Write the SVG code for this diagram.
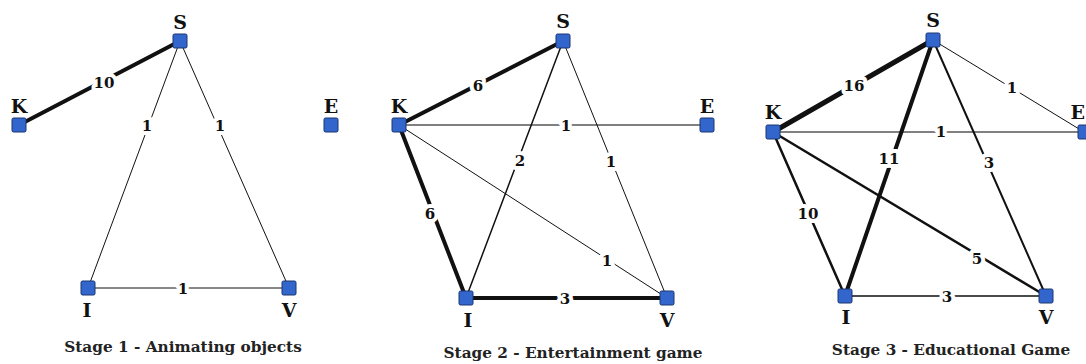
<svg xmlns="http://www.w3.org/2000/svg" width="1086" height="364" viewBox="0 0 1086 364">
<style>
.n{fill:#3366cc;stroke:#1a3570;stroke-width:1}
.nl{font-family:"DejaVu Serif","Liberation Serif",serif;font-weight:bold;font-size:19px;fill:#111;text-anchor:middle}
.el{font-family:"DejaVu Serif","Liberation Serif",serif;font-weight:bold;font-size:15px;fill:#111;text-anchor:middle;stroke:#fff;stroke-width:8px;paint-order:stroke;stroke-linejoin:round}
.cap{font-family:"DejaVu Serif","Liberation Serif",serif;font-weight:bold;font-size:15.3px;fill:#222;text-anchor:middle}
.e{stroke:#111;fill:none;stroke-linecap:round}
.g{stroke:#808080;fill:none}
</style>
<rect width="1086" height="364" fill="#fff"/>
<g id="connectors">
<line class="e" x1="19" y1="125" x2="180" y2="41" stroke-width="4"/>
<line class="e" x1="180" y1="41" x2="88" y2="288" stroke-width="1"/>
<line class="e" x1="180" y1="41" x2="289" y2="288" stroke-width="1"/>
<line class="e" x1="88" y1="288" x2="289" y2="288" stroke-width="1"/>
<line class="e" x1="399" y1="125" x2="563" y2="41" stroke-width="4"/>
<line class="g" x1="399" y1="125" x2="707" y2="125" stroke-width="2"/>
<line class="e" x1="563" y1="41" x2="466" y2="298" stroke-width="1.5"/>
<line class="e" x1="563" y1="41" x2="667" y2="298" stroke-width="1"/>
<line class="e" x1="399" y1="125" x2="667" y2="298" stroke-width="1"/>
<line class="e" x1="399" y1="125" x2="466" y2="298" stroke-width="4"/>
<line class="e" x1="466" y1="298" x2="667" y2="298" stroke-width="4"/>
<line class="e" x1="773" y1="132" x2="933" y2="40" stroke-width="5"/>
<line class="e" x1="933" y1="40" x2="1084" y2="132" stroke-width="1"/>
<line class="g" x1="773" y1="132" x2="1084" y2="132" stroke-width="2"/>
<line class="e" x1="933" y1="40" x2="845" y2="296" stroke-width="4"/>
<line class="e" x1="933" y1="40" x2="1046" y2="296" stroke-width="2"/>
<line class="e" x1="773" y1="132" x2="845" y2="296" stroke-width="2.5"/>
<line class="e" x1="773" y1="132" x2="1046" y2="296" stroke-width="2.5"/>
<line class="e" x1="845" y1="296" x2="1046" y2="296" stroke-width="1.5"/>
</g>
<g id="edge-labels">
<text class="el" x="104" y="88">10</text>
<text class="el" x="147" y="131">1</text>
<text class="el" x="220" y="131">1</text>
<text class="el" x="183" y="294">1</text>
<text class="el" x="478" y="91">6</text>
<text class="el" x="566" y="131">1</text>
<text class="el" x="520" y="166">2</text>
<text class="el" x="611" y="167">1</text>
<text class="el" x="607" y="266">1</text>
<text class="el" x="430" y="219">6</text>
<text class="el" x="565" y="304">3</text>
<text class="el" x="854" y="91">16</text>
<text class="el" x="1012" y="93">1</text>
<text class="el" x="941" y="137">1</text>
<text class="el" x="889" y="164">11</text>
<text class="el" x="989" y="168">3</text>
<text class="el" x="808" y="219">10</text>
<text class="el" x="977" y="264">5</text>
<text class="el" x="947" y="302">3</text>
</g>
<g id="s1-S"><rect class="n" x="173" y="34" width="14" height="14" rx="1.5"/><text class="nl" x="180" y="29">S</text></g>
<g id="s1-K"><rect class="n" x="12" y="118" width="14" height="14" rx="1.5"/><text class="nl" x="19" y="113">K</text></g>
<g id="s1-E"><rect class="n" x="324" y="118" width="14" height="14" rx="1.5"/><text class="nl" x="331" y="113">E</text></g>
<g id="s1-I"><rect class="n" x="81" y="281" width="14" height="14" rx="1.5"/><text class="nl" x="87" y="317">I</text></g>
<g id="s1-V"><rect class="n" x="282" y="281" width="14" height="14" rx="1.5"/><text class="nl" x="289" y="317">V</text></g>
<g id="s2-S"><rect class="n" x="556" y="34" width="14" height="14" rx="1.5"/><text class="nl" x="563" y="28">S</text></g>
<g id="s2-K"><rect class="n" x="392" y="118" width="14" height="14" rx="1.5"/><text class="nl" x="399" y="113">K</text></g>
<g id="s2-E"><rect class="n" x="700" y="118" width="14" height="14" rx="1.5"/><text class="nl" x="707" y="113">E</text></g>
<g id="s2-I"><rect class="n" x="459" y="291" width="14" height="14" rx="1.5"/><text class="nl" x="468" y="327">I</text></g>
<g id="s2-V"><rect class="n" x="660" y="291" width="14" height="14" rx="1.5"/><text class="nl" x="667" y="327">V</text></g>
<g id="s3-S"><rect class="n" x="926" y="33" width="14" height="14" rx="1.5"/><text class="nl" x="933" y="27">S</text></g>
<g id="s3-K"><rect class="n" x="766" y="125" width="14" height="14" rx="1.5"/><text class="nl" x="773" y="119">K</text></g>
<g id="s3-E"><rect class="n" x="1078" y="125" width="14" height="14" rx="1.5"/><text class="nl" x="1085" y="119" style="text-anchor:end">E</text></g>
<g id="s3-I"><rect class="n" x="838" y="289" width="14" height="14" rx="1.5"/><text class="nl" x="846" y="324">I</text></g>
<g id="s3-V"><rect class="n" x="1039" y="289" width="14" height="14" rx="1.5"/><text class="nl" x="1046" y="324">V</text></g>
<g id="captions">
<text class="cap" x="183" y="352">Stage 1 - Animating objects</text>
<text class="cap" x="573" y="358">Stage 2 - Entertainment game</text>
<text class="cap" x="951" y="355">Stage 3 - Educational Game</text>
</g>
</svg>
